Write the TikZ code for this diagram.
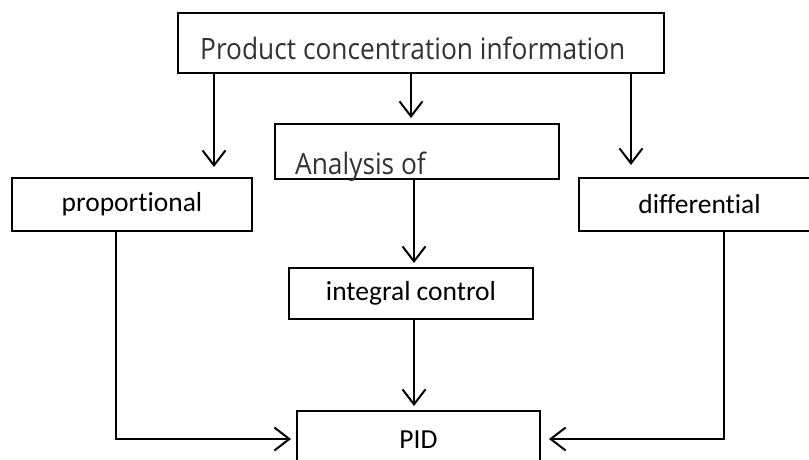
\documentclass[tikz,border=0pt]{standalone}
\usepackage{fontspec}
\usepackage{graphicx}
\setmainfont{Carlito}[Ligatures={NoCommon,NoContextual}]
\newfontfamily\segoe{Open Sans}
\usetikzlibrary{arrows.meta}
\definecolor{txtgray}{HTML}{333333}
\begin{document}
\begin{tikzpicture}[x=1pt,y=-1pt,
  box/.style={draw=black,line width=2pt,inner sep=0pt,font=\fontsize{27.5}{30}\selectfont},
  arr/.style={line width=2pt,-{Straight Barb[length=15pt,width=23pt,line width=2pt]}},
  bigtxt/.style={inner sep=0pt,text=txtgray,font=\segoe\fontsize{26.3}{30}\selectfont}]
\useasboundingbox (0,0) rectangle (809,460);
\clip (0,0) rectangle (809,460);
% boxes
\node[box,minimum width=486pt,minimum height=60pt] (top) at (421,43) {};
\node[bigtxt,anchor=base west] (toptxt) at (200,60) {\scalebox{1}[1.12]{Product concentration information}};
\node[box,minimum width=284pt,minimum height=55pt] (ana) at (417,151.5) {};
\begin{scope}
\clip (ana.south west) rectangle (ana.north east);
\node[bigtxt,anchor=base west] (anatxt) at (295,174) {\scalebox{1}[1.12]{Analysis of}};
\end{scope}
\node[box,minimum width=240pt,minimum height=53pt] (prop) at (132,204.5) {proportional};
\node[box,minimum width=241pt,minimum height=53pt] (diff) at (699.5,204.5) {differential};
\node[box,minimum width=244pt,minimum height=51pt] (integ) at (411,293.5) {integral control};
\node[box,minimum width=243pt,minimum height=58pt] (pid) at (418.5,440) {PID};
% connector coordinates
\coordinate (pl) at (214,167);
\coordinate (pm) at (411,118);
\coordinate (pr) at (631,165);
\coordinate (ai) at (414,263);
\coordinate (ip) at (414,406);
\coordinate (lc) at (116,439);
\coordinate (rc) at (724,439);
\coordinate (lt) at (291,439);
\coordinate (rt) at (549,439);
% connectors
\draw[arr] (top.south -| pl) -- (pl);
\draw[arr] (top.south -| pm) -- (pm);
\draw[arr] (top.south -| pr) -- (pr);
\draw[arr] (ana.south -| ai) -- (ai);
\draw[arr] (integ.south -| ip) -- (ip);
\draw[arr] (prop.south -| lc) -- (lc) -- (lt);
\draw[arr] (diff.south -| rc) -- (rc) -- (rt);
\end{tikzpicture}
\end{document}
